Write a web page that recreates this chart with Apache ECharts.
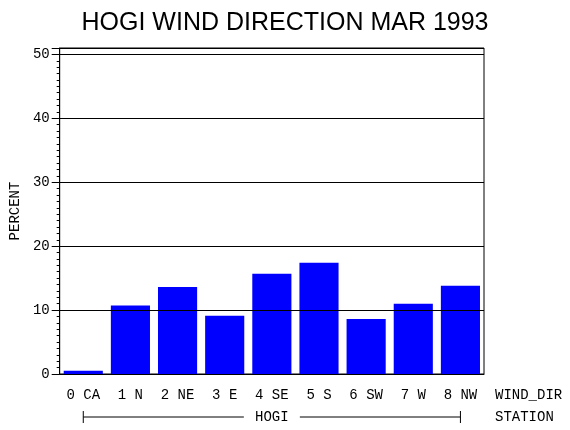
<!DOCTYPE html>
<html><head><meta charset="utf-8">
<script src="https://cdn.jsdelivr.net/npm/echarts@6/dist/echarts.min.js"></script>
<style>html,body{margin:0;padding:0;background:#fff}#c{width:570px;height:430px}</style>
</head><body><div id="c"></div>
<script>
const categories = ['0 CA','1 N','2 NE','3 E','4 SE','5 S','6 SW','7 W','8 NW'];
const percent = [0.5, 10.7, 13.6, 9.1, 15.7, 17.4, 8.6, 11.0, 13.8];
const yTicks = [0, 10, 20, 30, 40, 50];
const titleText = 'HOGI WIND DIRECTION MAR 1993';
const stationName = 'HOGI';

const mono = 'Liberation Mono';
const chart = echarts.init(document.getElementById('c'));
chart.setOption({
  animation: false,
  backgroundColor: '#fff',
  title: {text: titleText, left: 'center', top: 6,
    textStyle: {fontFamily: 'Liberation Sans', fontWeight: 'normal', fontSize: 25, color: '#000'}},
  grid: {left: 58, right: 86, top: 48, bottom: 56, show: true, borderColor: '#000', borderWidth: 1},
  xAxis: {type: 'category', data: categories,
    axisLine: {lineStyle: {color: '#000', width: 1}}, axisTick: {show: false},
    axisLabel: {color: '#000', fontFamily: mono, fontSize: 14, margin: 14}},
  yAxis: {type: 'value', min: 0, max: 51, interval: 10, z: 3,
    name: 'PERCENT', nameLocation: 'middle', nameGap: 33, nameRotate: 90,
    nameTextStyle: {color: '#000', fontFamily: mono, fontSize: 14},
    axisLine: {show: true, lineStyle: {color: '#000', width: 1}},
    axisTick: {show: true, length: 8, lineStyle: {color: '#000'}},
    minorTick: {show: true, splitNumber: 10, length: 3, lineStyle: {color: '#000'}},
    axisLabel: {color: '#000', fontFamily: mono, fontSize: 14, margin: 10,
      formatter: v => yTicks.includes(v) ? String(v) : ''},
    splitLine: {show: true, lineStyle: {color: '#000', width: 1}}},
  series: [{type: 'bar', data: percent, barCategoryGap: '17%',
    itemStyle: {color: '#0000FF'}}]
});

function decorate() {
  const p0 = chart.convertToPixel({xAxisIndex: 0}, categories[0]);
  const p1 = chart.convertToPixel({xAxisIndex: 0}, categories[categories.length - 1]);
  const yBase = chart.convertToPixel({yAxisIndex: 0}, 0);
  const xRight = p1 + (p1 - p0) / (categories.length - 1) / 2;
  const yLab = yBase + 21, yBr = yBase + 43;
  const mid = (p0 + p1) / 2, gap = 28;
  const ls = {stroke: '#000', lineWidth: 1};
  chart.setOption({graphic: [
    {type: 'line', shape: {x1: p0, y1: yBr, x2: mid - gap, y2: yBr}, style: ls, silent: true},
    {type: 'line', shape: {x1: mid + gap, y1: yBr, x2: p1, y2: yBr}, style: ls, silent: true},
    {type: 'line', shape: {x1: p0, y1: yBr - 6, x2: p0, y2: yBr + 6}, style: ls, silent: true},
    {type: 'line', shape: {x1: p1, y1: yBr - 6, x2: p1, y2: yBr + 6}, style: ls, silent: true},
    {type: 'text', x: mid, y: yBr, style: {text: stationName, fill: '#000', font: '14px ' + mono, align: 'center', verticalAlign: 'middle'}},
    {type: 'text', x: xRight + 11, y: yLab, style: {text: 'WIND_DIR', fill: '#000', font: '14px ' + mono, align: 'left', verticalAlign: 'middle'}},
    {type: 'text', x: xRight + 11, y: yBr, style: {text: 'STATION', fill: '#000', font: '14px ' + mono, align: 'left', verticalAlign: 'middle'}}
  ]});
}
decorate();
</script></body></html>
